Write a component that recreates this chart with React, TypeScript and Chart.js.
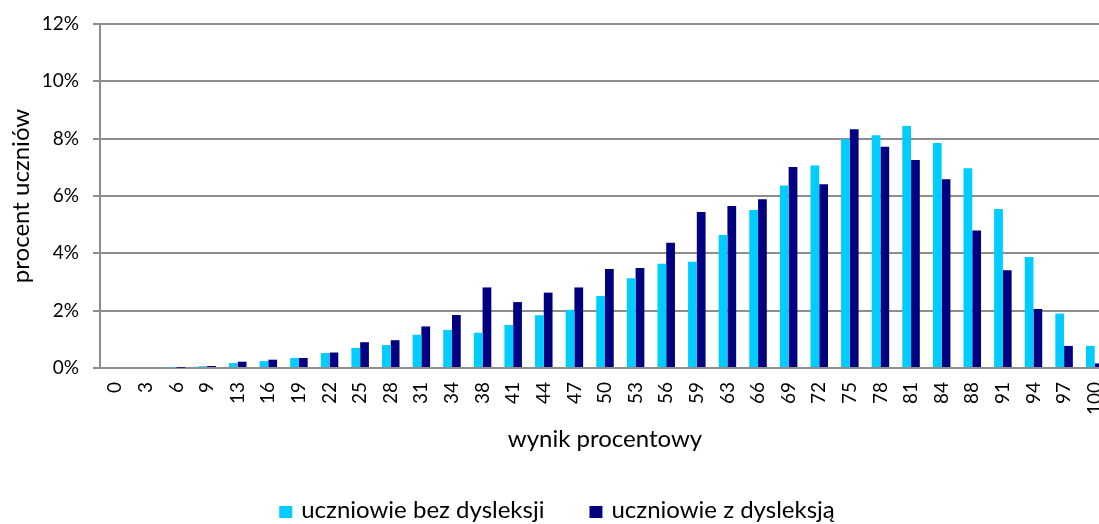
import React, { useEffect, useRef } from "react";
import { Chart, registerables } from "chart.js";

Chart.register(...registerables);

const categories = ["0", "3", "6", "9", "13", "16", "19", "22", "25", "28", "31", "34", "38", "41", "44", "47", "50", "53", "56", "59", "63", "66", "69", "72", "75", "78", "81", "84", "88", "91", "94", "97", "100"];

const bezDysleksji = [0, 0, 0.02, 0.06, 0.17, 0.24, 0.35, 0.52, 0.7, 0.8, 1.16, 1.33, 1.23, 1.5, 1.84, 2.03, 2.51, 3.13, 3.64, 3.71, 4.64, 5.51, 6.37, 7.06, 7.98, 8.12, 8.44, 7.85, 6.97, 5.55, 3.87, 1.9, 0.77];

const zDysleksja = [0, 0, 0.01, 0.07, 0.22, 0.29, 0.35, 0.54, 0.9, 0.97, 1.45, 1.85, 2.81, 2.3, 2.63, 2.81, 3.45, 3.49, 4.37, 5.44, 5.65, 5.89, 7.01, 6.41, 8.33, 7.72, 7.26, 6.58, 4.8, 3.41, 2.06, 0.77, 0.16];

const seriesLabels = ["uczniowie bez dysleksji", "uczniowie z dysleksją"];
const yTickValues = [0, 2, 4, 6, 8, 10, 12];

const FONT = "Lato";
const TICK_SIZE = 19;
const TITLE_SIZE = 24;
const LEGEND_SIZE = 24;

const customLegend = {
  id: "customLegend",
  afterDraw(chart: any) {
    const ctx = chart.ctx;
    ctx.save();
    ctx.font = `${LEGEND_SIZE}px ${FONT}`;
    const box = 13;
    const gap = 9;
    const sep = 45;
    const items = chart.data.datasets.map((ds: any) => ({
      text: ds.label,
      color: ds.backgroundColor,
      w: ctx.measureText(ds.label).width,
    }));
    const total =
      items.reduce((s: number, it: any) => s + box + gap + it.w, 0) +
      sep * (items.length - 1);
    let x = chart.width / 2 + 2 - total / 2;
    items.forEach((it: any) => {
      ctx.fillStyle = it.color;
      ctx.fillRect(x, 506, box, 12);
      x += box + gap;
      ctx.fillStyle = "#000";
      ctx.textBaseline = "alphabetic";
      ctx.textAlign = "left";
      ctx.fillText(it.text, x, 518);
      x += it.w + sep;
    });
    ctx.restore();
  },
};

export default function App() {
  const ref = useRef<HTMLCanvasElement | null>(null);

  useEffect(() => {
    if (!ref.current) return;
    const chart = new Chart(ref.current, {
      type: "bar",
      data: {
        labels: categories,
        datasets: [
          {
            label: seriesLabels[0],
            data: bezDysleksji,
            backgroundColor: "#00CCFF",
            borderWidth: 0,
            categoryPercentage: 0.572,
            barPercentage: 1,
          },
          {
            label: seriesLabels[1],
            data: zDysleksja,
            backgroundColor: "#000080",
            borderWidth: 0,
            categoryPercentage: 0.572,
            barPercentage: 1,
          },
        ],
      },
      options: {
        responsive: false,
        animation: false,
        devicePixelRatio: 1,
        layout: { padding: { top: 24, left: 0, right: 0, bottom: 0 } },
        plugins: {
          legend: { display: false },
          tooltip: { enabled: false },
        },
        scales: {
          x: {
            grid: { display: false, drawTicks: false },
            border: { display: true, color: "#8e8e8e", width: 2 },
            ticks: {
              autoSkip: false,
              maxRotation: 90,
              minRotation: 90,
              padding: 14,
              color: "#000",
              font: { family: FONT, size: TICK_SIZE },
            },
            title: {
              display: true,
              text: "wynik procentowy",
              color: "#000",
              font: { family: FONT, size: TITLE_SIZE },
              padding: { top: 0, bottom: 70 },
            },
            afterFit(scale: any) {
              scale.height = 156;
              scale.paddingLeft = 0;
              scale.paddingRight = 0;
            },
          },
          y: {
            min: 0,
            max: 12,
            afterBuildTicks(scale: any) {
              scale.ticks = yTickValues.map((v) => ({ value: v }));
            },
            grid: {
              color: "#8e8e8e",
              lineWidth: 2,
              drawTicks: true,
              tickLength: 7,
            },
            border: { display: true, color: "#8e8e8e", width: 2 },
            ticks: {
              padding: 14,
              color: "#000",
              font: { family: FONT, size: TICK_SIZE },
              callback: (v: any) => `${v}%`,
            },
            title: {
              display: true,
              text: "procent uczniów",
              color: "#000",
              font: { family: FONT, size: TITLE_SIZE },
              padding: { top: 7, bottom: 0 },
            },
            afterFit(scale: any) {
              scale.width = 100;
              scale.paddingTop = 0;
              scale.paddingBottom = 0;
            },
          },
        },
      },
      plugins: [customLegend],
    });
    return () => chart.destroy();
  }, []);

  return (
    <div
      style={{
        position: "fixed",
        left: 0,
        top: 0,
        width: 1099,
        height: 524,
        overflow: "hidden",
        background: "#fff",
      }}
    >
      <canvas ref={ref} width={1110} height={524} style={{ display: "block" }} />
    </div>
  );
}
